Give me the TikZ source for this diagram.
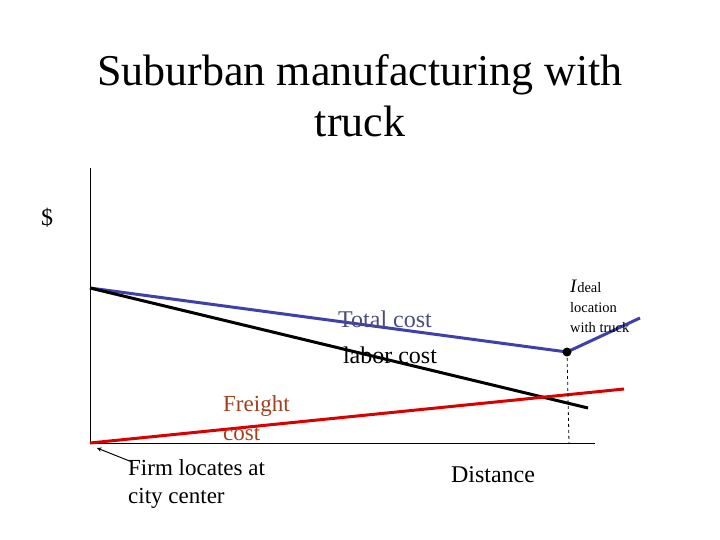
\documentclass[tikz,border=0pt]{standalone}
\usepackage{fontspec}
\setmainfont{Liberation Serif}
\begin{document}
\begin{tikzpicture}[x=1pt,y=-1pt,
  lab/.style={inner sep=0pt,font=\fontsize{24}{27}\selectfont},
  small/.style={inner sep=0pt,font=\fontsize{14.5}{20}\selectfont,align=left}]
\useasboundingbox (0,0) rectangle (720,540);
\node[inner sep=0pt,align=center,font=\fontsize{44}{51}\selectfont] (title) at (360,96) {Suburban manufacturing with\\truck};
\coordinate (o) at (90,443);
\coordinate (top) at (90,168);
\coordinate (xe) at (595,443);
\draw[line width=0.8pt] (top) -- (o) -- (xe);
\node[lab] (dollar) at (47,218) {\$};
\coordinate (s) at (90,288);
\coordinate (m) at (567,352);
\coordinate (b2) at (640,318);
\coordinate (le) at (588,408);
\coordinate (r2) at (624,389);
\coordinate (g) at (569,443);
\draw[line width=3pt,draw={rgb,255:red,64;green,64;blue,170}] (s) -- (m) -- (b2);
\draw[line width=3pt] (s) -- (le);
\draw[line width=3pt,red!85!black] (o) -- (r2);
\draw[dashed,line width=0.8pt] (m) -- (g);
\fill (m) circle (4.5);
\node[lab,text={rgb,255:red,75;green,75;blue,130}] (tc) at (385,319) {Total cost};
\node[lab] (lc) at (390,355) {labor cost};
\node[lab,anchor=west,align=left,text={rgb,255:red,160;green,64;blue,28},font=\fontsize{23}{29}\selectfont] (fc) at (223,418) {Freight\\cost};
\node[lab,anchor=west,align=left,font=\fontsize{23}{28}\selectfont] (firm) at (128,484) {Firm locates at\\city center};
\node[lab] (dist) at (493,475) {Distance};
\node[small,anchor=west] (ideal) at (570,306) {\fontsize{19}{20}\selectfont\textit{I}\fontsize{14.5}{20}\selectfont deal\\location\\with truck};
\coordinate (at) at (97,448);
\coordinate (as) at (132,462);
\draw[-stealth,line width=1pt] (as) -- (at);
\end{tikzpicture}
\end{document}
